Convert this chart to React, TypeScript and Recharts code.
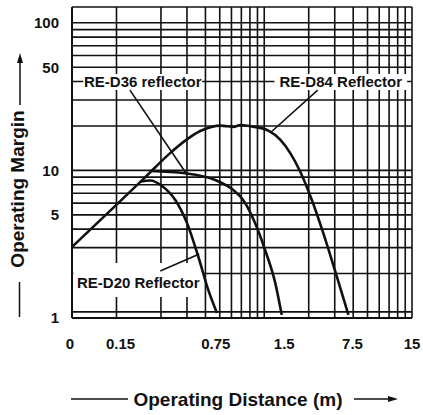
import {
  CartesianGrid,
  ComposedChart,
  Line,
  ReferenceArea,
  ReferenceLine,
  XAxis,
  YAxis,
} from 'recharts';

const INK = '#111';
const FONT = '"Liberation Sans", Arial, Helvetica, sans-serif';

// operating distance (m) / operating margin
const D84_DIST = [0.075, 0.154, 0.235, 0.346, 0.452, 0.553, 0.658, 0.756, 0.85, 0.93, 1.03, 1.26, 1.6, 1.93, 2.25, 2.63, 3.15, 3.76, 4.51, 5.57];
const D84_MARGIN = [3.03, 6.0, 9.0, 13.1, 16.3, 18.5, 19.7, 20.1, 19.9, 19.7, 20.3, 19.8, 18.6, 16.1, 13.1, 9.8, 6.3, 3.77, 2.11, 1.05];

const D36_DIST = [0.254, 0.438, 0.699, 0.925, 1.08, 1.3, 1.52, 1.78, 1.97];
const D36_MARGIN = [9.9, 9.56, 8.61, 7.37, 6.3, 4.4, 2.89, 1.73, 1.05];

const D20_DIST = [0.217, 0.254, 0.305, 0.375, 0.45, 0.537, 0.627, 0.718];
const D20_MARGIN = [8.4, 8.55, 7.84, 6.3, 4.4, 2.6, 1.55, 1.08];

const X_TICKS = [0.075, 0.15, 0.75, 1.5, 7.5, 15];
const X_TICK_LABELS = ['0', '0.15', '0.75', '1.5', '7.5', '15'];
const Y_TICKS = [1, 5, 10, 50, 100];

const X_GRID = [0.075, 0.15, 0.3, 0.45, 0.6, 0.75, 0.9, 1.05, 1.2, 1.35, 1.5, 3, 4.5, 6, 7.5, 9, 10.5, 12, 13.5, 15];
const Y_GRID = [1, 1.1, 2, 3, 4, 5, 6, 7, 8, 9, 10, 20, 30, 40, 50, 60, 70, 80, 90, 100, 128];

const zip = (xs: number[], ys: number[]) => xs.map((m, i) => ({ m, v: ys[i] }));

const d84 = zip(D84_DIST, D84_MARGIN);
const d36 = zip(D36_DIST, D36_MARGIN);
const d20 = zip(D20_DIST, D20_MARGIN);

// the printed labels sit a little off their grid lines in the original
const X_LABEL_NUDGE: Record<string, number> = { '0': -2, '0.15': 4, '0.75': -4, '1.5': 20, '7.5': -15, '15': 0 };

function XTick(props: any) {
  const { x, y, payload } = props;
  const label = X_TICK_LABELS[X_TICKS.indexOf(payload.value)] ?? '';
  return (
    <text
      x={x + (X_LABEL_NUDGE[label] ?? 0)}
      y={y}
      dy="0.71em"
      textAnchor="middle"
      fill={INK}
      fontFamily={FONT}
      fontSize={15}
      fontWeight={700}
    >
      {label}
    </text>
  );
}

function YTick(props: any) {
  const { x, y, payload } = props;
  return (
    <text x={x} y={y} dy="0.36em" textAnchor="end" fill={INK} fontFamily={FONT} fontSize={15} fontWeight={700}>
      {payload.value}
    </text>
  );
}

function XTitle(props: any) {
  const vb = props.viewBox ?? { x: 72, y: 318, width: 340, height: 97 };
  const cy = vb.y + 81;
  const cx = vb.x + vb.width / 2 - 4;
  const right = vb.x + vb.width - 14;
  return (
    <g>
      <line x1={vb.x - 1} y1={cy} x2={vb.x + 56} y2={cy} stroke={INK} strokeWidth={1.5} />
      <text x={cx} y={cy} dy="0.36em" textAnchor="middle" fill={INK} fontFamily={FONT} fontSize={19} fontWeight={700}>
        Operating Distance (m)
      </text>
      <line x1={vb.x + 282} y1={cy} x2={right - 6} y2={cy} stroke={INK} strokeWidth={1.5} />
      <polygon points={`${right},${cy} ${right - 10},${cy - 3} ${right - 10},${cy + 3}`} fill={INK} />
    </g>
  );
}

function YTitle() {
  const tx = 24;
  const ty = 189;
  return (
    <g>
      <line x1={20} y1={105} x2={20} y2={61} stroke={INK} strokeWidth={1.5} />
      <polygon points="20,53 17,63 23,63" fill={INK} />
      <text
        x={tx}
        y={ty}
        transform={`rotate(-90 ${tx} ${ty})`}
        textAnchor="middle"
        fill={INK}
        fontFamily={FONT}
        fontSize={19}
        fontWeight={700}
      >
        Operating Margin
      </text>
      <line x1={19.5} y1={282} x2={19.5} y2={317} stroke={INK} strokeWidth={1.5} />
    </g>
  );
}

function boxLabel(text: string, dy = 0) {
  return (props: any) => {
    const vb = props.viewBox;
    if (!vb) return null;
    return (
      <text
        x={vb.x + vb.width / 2}
        y={vb.y + vb.height / 2 + dy}
        dy="0.36em"
        textAnchor="middle"
        fill={INK}
        fontFamily={FONT}
        fontSize={15}
        fontWeight={700}
      >
        {text}
      </text>
    );
  };
}

export default function App() {
  return (
    <div style={{ position: 'absolute', left: 0, top: 0, width: 423, height: 415, background: '#fff' }}>
      <ComposedChart width={423} height={415} margin={{ top: 7, right: 11, bottom: 0, left: 0 }}>
        <CartesianGrid
          stroke={INK}
          strokeWidth={1.6}
          horizontalValues={Y_GRID}
          verticalValues={X_GRID}
        />
        <XAxis
          type="number"
          dataKey="m"
          scale="log"
          domain={[0.075, 15]}
          allowDataOverflow
          ticks={X_TICKS}
          interval={0}
          height={97}
          tickLine={false}
          tickSize={0}
          tickMargin={20}
          axisLine={{ stroke: INK, strokeWidth: 2 }}
          tick={<XTick />}
          label={{ content: <XTitle /> }}
        />
        <YAxis
          type="number"
          dataKey="v"
          scale="log"
          domain={[1, 128]}
          allowDataOverflow
          ticks={Y_TICKS}
          interval={0}
          width={72}
          tickLine={false}
          tickSize={0}
          tickMargin={13}
          axisLine={{ stroke: INK, strokeWidth: 2 }}
          tick={<YTick />}
          label={{ content: <YTitle /> }}
        />
        <ReferenceArea x1={0.0894} x2={0.571} y1={35.1} y2={45} fill="#fff" fillOpacity={1} stroke="none" label={boxLabel('RE-D36 reflector')} />
        <ReferenceArea x1={1.76} x2={13.9} y1={35.1} y2={45} fill="#fff" fillOpacity={1} stroke="none" label={boxLabel('RE-D84 Reflector')} />
        <ReferenceArea x1={0.0765} x2={0.58} y1={1.39} y2={2.36} fill="#fff" fillOpacity={1} stroke="none" label={boxLabel('RE-D20 Reflector', 3)} />
        <Line data={d84} dataKey="v" type="monotone" stroke={INK} strokeWidth={2.6} dot={false} activeDot={false} isAnimationActive={false} />
        <Line data={d36} dataKey="v" type="monotone" stroke={INK} strokeWidth={2.6} dot={false} activeDot={false} isAnimationActive={false} />
        <Line data={d20} dataKey="v" type="monotone" stroke={INK} strokeWidth={2.6} dot={false} activeDot={false} isAnimationActive={false} />
        <ReferenceLine segment={[{ x: 0.185, y: 35 }, { x: 0.452, y: 9.3 }]} stroke={INK} strokeWidth={1.6} ifOverflow="visible" />
        <ReferenceLine segment={[{ x: 3.45, y: 35 }, { x: 1.67, y: 18.2 }]} stroke={INK} strokeWidth={1.6} ifOverflow="visible" />
        <ReferenceLine segment={[{ x: 0.297, y: 2.08 }, { x: 0.545, y: 2.71 }]} stroke={INK} strokeWidth={1.6} ifOverflow="visible" />
      </ComposedChart>
    </div>
  );
}
